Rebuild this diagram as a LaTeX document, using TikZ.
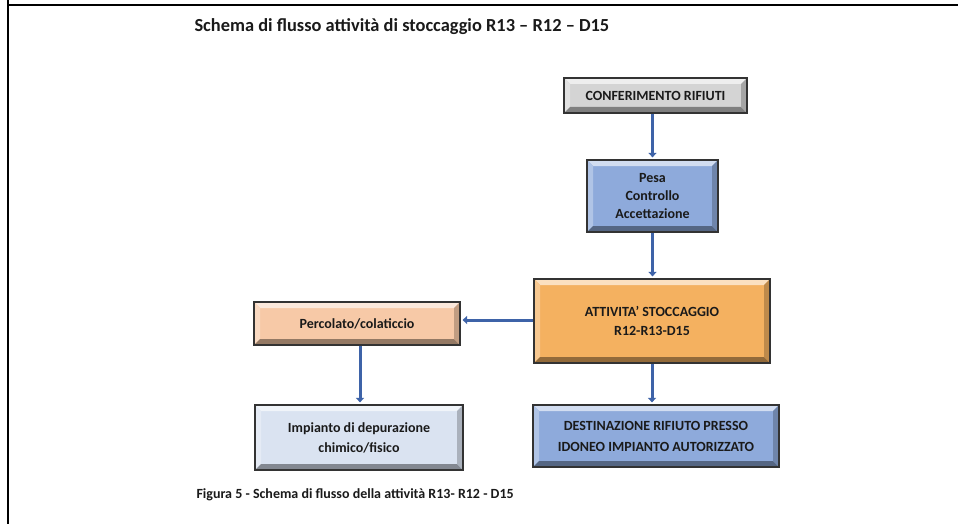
\documentclass[tikz,border=0pt]{standalone}
\usepackage{fontspec}
\setmainfont{Carlito}
\usetikzlibrary{arrows.meta}
\definecolor{flowblue}{HTML}{3E63A8}
\definecolor{boxgray}{HTML}{D4D4D4}
\definecolor{boxblue}{HTML}{8EAADB}
\definecolor{boxorange}{HTML}{F4B160}
\definecolor{boxpeach}{HTML}{F7C9A7}
\definecolor{boxpale}{HTML}{DAE3F1}
\definecolor{textdark}{HTML}{1A1A1A}
\tikzset{
  bevelbox/.style={
    draw=black!80, line width=1.2pt, fill=#1, inner sep=0pt,
    align=center, text=textdark,
    font=\bfseries\fontsize{14}{18}\selectfont,
    path picture={
      \fill[#1!40!white]
        (path picture bounding box.north west) -- (path picture bounding box.north east)
        -- ([xshift=-6pt,yshift=-6pt]path picture bounding box.north east)
        -- ([xshift=6pt,yshift=-6pt]path picture bounding box.north west) -- cycle;
      \fill[#1!70!white]
        (path picture bounding box.north west) -- (path picture bounding box.south west)
        -- ([xshift=6pt,yshift=6pt]path picture bounding box.south west)
        -- ([xshift=6pt,yshift=-6pt]path picture bounding box.north west) -- cycle;
      \fill[#1!60!black]
        (path picture bounding box.south west) -- (path picture bounding box.south east)
        -- ([xshift=-6pt,yshift=6pt]path picture bounding box.south east)
        -- ([xshift=6pt,yshift=6pt]path picture bounding box.south west) -- cycle;
      \fill[#1!78!black]
        (path picture bounding box.north east) -- (path picture bounding box.south east)
        -- ([xshift=-6pt,yshift=6pt]path picture bounding box.south east)
        -- ([xshift=-6pt,yshift=-6pt]path picture bounding box.north east) -- cycle;
    }},
  flow/.style={draw=flowblue, line width=3pt,
    -{Triangle[width=8pt,length=4.5pt]}, shorten >=2pt},
  frame/.style={draw=black, line width=2.2pt}
}
\begin{document}
\begin{tikzpicture}[x=1pt,y=-1pt]
  \useasboundingbox (0,0) rectangle (958,524);
  \fill[white] (0,0) rectangle (958,524);

  % page frame
  \draw[frame] (8,0) -- (8,524);
  \draw[frame] (7,5) -- (958,5);

  % title and caption
  \node[anchor=west, font=\bfseries\fontsize{18.4}{22}\selectfont, text=textdark]
    (title) at (191,27) {Schema di flusso attività di stoccaggio R13 – R12 – D15};
  \node[anchor=west, font=\bfseries\fontsize{14}{17}\selectfont, text=textdark]
    (caption) at (193,495) {Figura 5 - Schema di flusso della attività R13- R12 - D15};

  % process boxes
  \node[bevelbox=boxgray, minimum width=183pt, minimum height=35pt]
    (conf) at (655.5,95.5) {CONFERIMENTO RIFIUTI};
  \node[bevelbox=boxblue, minimum width=131pt, minimum height=72pt]
    (pesa) at (652.5,196) {Pesa\\Controllo\\Accettazione};
  \node[bevelbox=boxorange, minimum width=236pt, minimum height=84pt,
        font=\bfseries\fontsize{14}{19}\selectfont]
    (att) at (652,321) {ATTIVITA’ STOCCAGGIO\\R12-R13-D15};
  \node[bevelbox=boxpeach, minimum width=206pt, minimum height=43pt]
    (perc) at (357,323.5) {Percolato/colaticcio};
  \node[bevelbox=boxpale, minimum width=208pt, minimum height=65pt,
        font=\bfseries\fontsize{14}{20}\selectfont]
    (imp) at (359,437.5) {Impianto di depurazione\\chimico/fisico};
  \node[bevelbox=boxblue, minimum width=246pt, minimum height=62pt,
        font=\bfseries\fontsize{14}{21}\selectfont]
    (dest) at (656,436) {DESTINAZIONE RIFIUTO PRESSO\\IDONEO IMPIANTO AUTORIZZATO};

  % connectors
  \draw[flow] (conf.south -| pesa.north) -- (pesa.north);
  \draw[flow] (pesa.south) -- (pesa.south |- att.north);
  \draw[flow] (att.west |- 0,320) -- (perc.east |- 0,320);
  \draw[flow] (perc.south -| 360,0) -- (imp.north -| 360,0);
  \draw[flow] (att.south) -- (att.south |- dest.north);
\end{tikzpicture}
\end{document}
